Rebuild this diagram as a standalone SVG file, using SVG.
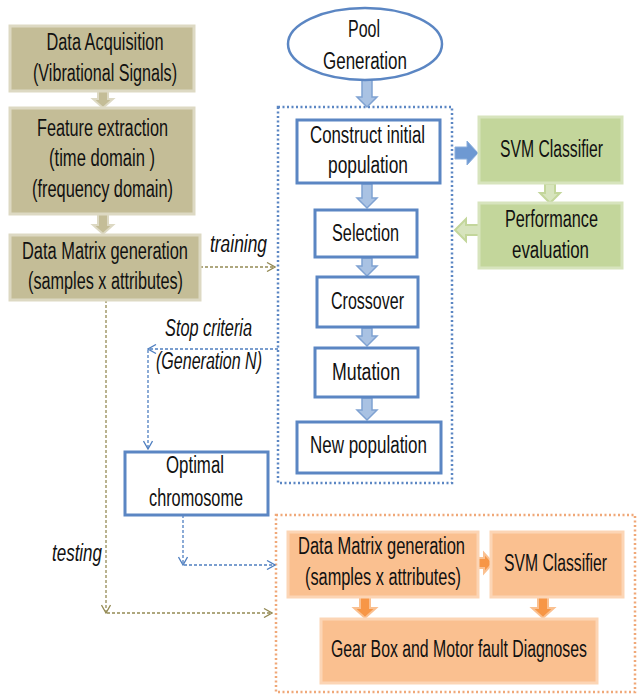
<svg xmlns="http://www.w3.org/2000/svg" width="639" height="694" viewBox="0 0 639 694">
<style>
text{font-family:"Liberation Sans Narrow","Liberation Sans",Arial,sans-serif;font-size:23px;fill:#111;text-anchor:middle}
.it{font-style:italic}
.olive{fill:#C4BD97;stroke:#DDD9C3;stroke-width:3}
.blue{fill:#fff;stroke:#5B86C3;stroke-width:3}
.green{fill:#C3D69B;stroke:#D7E4BD;stroke-width:3}
.orange{fill:#FAC090;stroke:#FCD5B5;stroke-width:3}
.aOl{fill:#C4BD97;stroke:#DDD9C3;stroke-width:2}
.aBl{fill:#A9C2E3;stroke:#7FA2D2;stroke-width:1.5}
.aBs{fill:#6E99D2;stroke:#8AAEDC;stroke-width:1}
.aGr{fill:#D7E4BD;stroke:#C3D69B;stroke-width:2}
.aOr{fill:#F79646;stroke:#FAC090;stroke-width:2}
.dotB{fill:none;stroke:#5B86C3;stroke-width:2.5;stroke-dasharray:2 2.5}
.dotO{fill:none;stroke:#F0A878;stroke-width:2.5;stroke-dasharray:2 2.5}
.cOl{fill:none;stroke:#948A54;stroke-width:1.3;stroke-dasharray:3 2;marker-end:url(#hOl)}
.cBl{fill:none;stroke:#4F7FC0;stroke-width:1.3;stroke-dasharray:3 2;marker-end:url(#hBl)}
</style>
<defs>
<marker id="hOl" viewBox="0 0 10 10" refX="9" refY="5" markerWidth="10" markerHeight="10" markerUnits="userSpaceOnUse" orient="auto">
<path d="M1,0.5 L9,5 L1,9.5" fill="none" stroke="#948A54" stroke-width="1.3"/>
</marker>
<marker id="hBl" viewBox="0 0 10 10" refX="9" refY="5" markerWidth="10" markerHeight="10" markerUnits="userSpaceOnUse" orient="auto">
<path d="M1,0.5 L9,5 L1,9.5" fill="none" stroke="#4F7FC0" stroke-width="1.3"/>
</marker>
</defs>
<rect width="639" height="694" fill="#fff"/>

<g id="containers">
<rect id="ga-container" class="dotB" x="278" y="107" width="174" height="376"/>
<rect id="test-container" class="dotO" x="276" y="515" width="359" height="177"/>
</g>

<g id="connectors">
<path class="aOl" d="M98,91 h10 v8 h5 l-10,9 l-10,-9 h5 z"/>
<path class="aOl" d="M98,214 h10 v11 h5 l-10,9 l-10,-9 h5 z"/>
<path class="aBl" d="M362,80 h10 v17 h5 l-10,10 l-10,-10 h5 z"/>
<path class="aBl" d="M362,184 h10 v14 h5 l-10,10 l-10,-10 h5 z"/>
<path class="aBl" d="M362,258 h10 v8 h5 l-10,10 l-10,-10 h5 z"/>
<path class="aBl" d="M362,328 h10 v8 h5 l-10,10 l-10,-10 h5 z"/>
<path class="aBl" d="M362,398 h10 v12 h5 l-10,10 l-10,-10 h5 z"/>
<path class="aBs" d="M455,147 h12 v-6 l11,12 l-11,12 v-6 h-12 z"/>
<path class="aGr" d="M545,184 h10 v9 h5 l-10,10 l-10,-10 h5 z"/>
<path class="aGr" d="M479,225 v10 h-13 v6 l-11,-11 l11,-11 v6 z"/>
<path class="aOr" d="M478,558 h6 v-5 l9,10 l-9,10 v-5 h-6 z"/>
<path class="aOr" d="M360,597 h10 v11 h6 l-11,10 l-11,-10 h6 z"/>
<path class="aOr" d="M538,597 h10 v11 h6 l-11,10 l-11,-10 h6 z"/>

<path class="cOl" d="M200,267 H275"/>
<path class="cOl" d="M106,300 V613"/>
<path class="cOl" d="M107,613 H272"/>
<path class="cBl" d="M278,349 H148"/>
<path class="cBl" d="M148,350 V449"/>
<path class="cBl" d="M183,515 V565"/>
<path class="cBl" d="M184,565 H275"/>
</g>

<g id="n-acq"><rect class="olive" x="10" y="26" width="184" height="65"/>
<text x="105" y="50" textLength="117" lengthAdjust="spacingAndGlyphs">Data Acquisition</text>
<text x="105" y="81" textLength="144" lengthAdjust="spacingAndGlyphs">(Vibrational Signals)</text></g>

<g id="n-feat"><rect class="olive" x="10" y="108" width="184" height="106"/>
<text x="102.5" y="136" textLength="131" lengthAdjust="spacingAndGlyphs">Feature extraction</text>
<text x="102" y="166" textLength="106" lengthAdjust="spacingAndGlyphs">(time domain )</text>
<text x="102.5" y="197" textLength="141" lengthAdjust="spacingAndGlyphs">(frequency domain)</text></g>

<g id="n-matrix"><rect class="olive" x="10" y="235" width="190" height="65"/>
<text x="105" y="259" textLength="166" lengthAdjust="spacingAndGlyphs">Data Matrix generation</text>
<text x="105.5" y="289" textLength="155" lengthAdjust="spacingAndGlyphs">(samples x attributes)</text></g>

<g id="l-training"><text class="it" x="238.5" y="252" textLength="57" lengthAdjust="spacingAndGlyphs">training</text></g>

<g id="n-pool"><ellipse cx="365" cy="44" rx="77" ry="36" fill="#fff" stroke="#5B86C3" stroke-width="2.5"/>
<text x="364" y="37" textLength="32" lengthAdjust="spacingAndGlyphs">Pool</text>
<text x="365" y="69" textLength="84" lengthAdjust="spacingAndGlyphs">Generation</text></g>

<g id="n-init"><rect class="blue" x="297" y="120" width="143" height="63"/>
<text x="367.5" y="143" textLength="115" lengthAdjust="spacingAndGlyphs">Construct initial</text>
<text x="368" y="173" textLength="80" lengthAdjust="spacingAndGlyphs">population</text></g>

<g id="n-sel"><rect class="blue" x="315" y="210" width="102" height="47"/>
<text x="365.5" y="241" textLength="67" lengthAdjust="spacingAndGlyphs">Selection</text></g>

<g id="n-cross"><rect class="blue" x="317" y="277" width="101" height="50"/>
<text x="367.5" y="309" textLength="73" lengthAdjust="spacingAndGlyphs">Crossover</text></g>

<g id="n-mut"><rect class="blue" x="315" y="348" width="103" height="49"/>
<text x="366" y="380" textLength="68" lengthAdjust="spacingAndGlyphs">Mutation</text></g>

<g id="n-new"><rect class="blue" x="297" y="422" width="144" height="51"/>
<text x="368.5" y="453" textLength="117" lengthAdjust="spacingAndGlyphs">New population</text></g>

<g id="n-svm"><rect class="green" x="479" y="117" width="143" height="66"/>
<text x="551.5" y="157" textLength="103" lengthAdjust="spacingAndGlyphs">SVM Classifier</text></g>

<g id="n-perf"><rect class="green" x="479" y="203" width="143" height="65"/>
<text x="551.5" y="227" textLength="93" lengthAdjust="spacingAndGlyphs">Performance</text>
<text x="550.5" y="258" textLength="77" lengthAdjust="spacingAndGlyphs">evaluation</text></g>

<g id="l-stop"><text class="it" x="208.5" y="336" textLength="87" lengthAdjust="spacingAndGlyphs">Stop criteria</text>
<text class="it" x="209" y="369" textLength="106" lengthAdjust="spacingAndGlyphs">(Generation N)</text></g>

<g id="n-opt"><rect class="blue" x="125" y="452" width="143" height="63"/>
<text x="195" y="473" textLength="58" lengthAdjust="spacingAndGlyphs">Optimal</text>
<text x="196" y="506" textLength="94" lengthAdjust="spacingAndGlyphs">chromosome</text></g>

<g id="l-testing"><text class="it" x="77" y="561" textLength="50" lengthAdjust="spacingAndGlyphs">testing</text></g>

<g id="n-matrix2"><rect class="orange" x="288" y="532" width="190" height="65"/>
<text x="381.5" y="554" textLength="167" lengthAdjust="spacingAndGlyphs">Data Matrix generation</text>
<text x="383" y="585" textLength="156" lengthAdjust="spacingAndGlyphs">(samples x attributes)</text></g>

<g id="n-svm2"><rect class="orange" x="491" y="532" width="132" height="65"/>
<text x="555.5" y="571" textLength="103" lengthAdjust="spacingAndGlyphs">SVM Classifier</text></g>

<g id="n-diag"><rect class="orange" x="321" y="619" width="276" height="64"/>
<text x="459" y="657" textLength="256" lengthAdjust="spacingAndGlyphs">Gear Box and Motor fault Diagnoses</text></g>
</svg>
